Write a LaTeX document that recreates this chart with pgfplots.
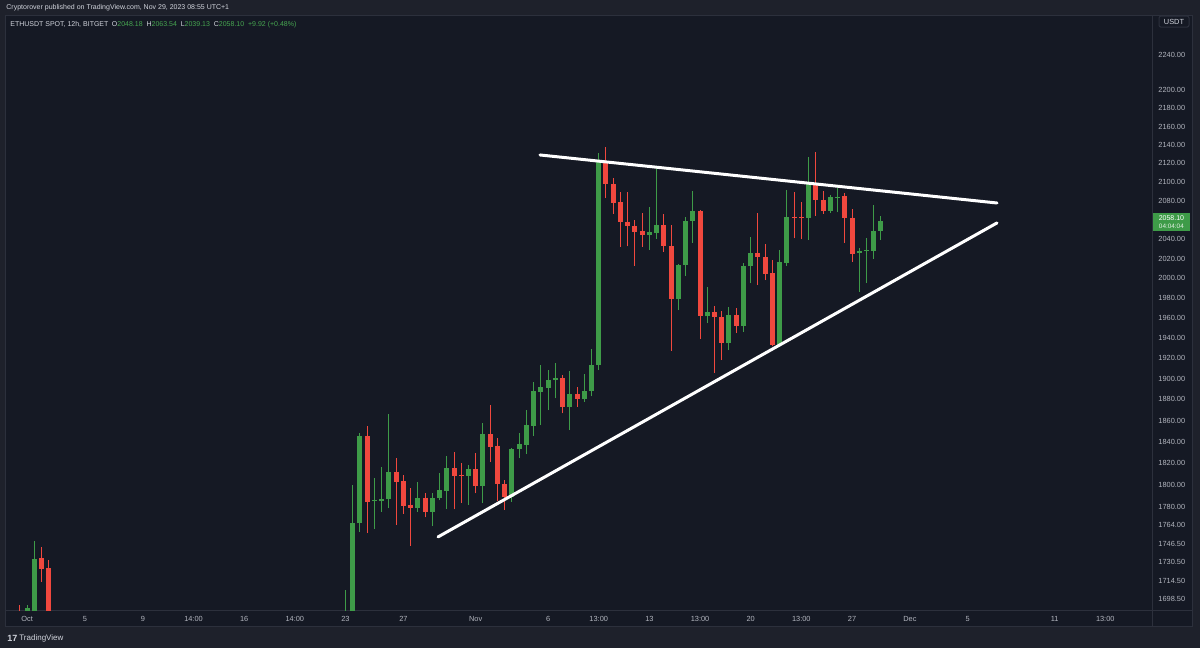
\documentclass[border=0pt]{standalone}
\usepackage{fontspec}
\setmainfont{Liberation Sans}
\usepackage{pgfplots}
\usepackage{pgfplotstable}
\pgfplotsset{compat=1.18}
\definecolor{outerbg}{RGB}{30,33,43}
\definecolor{panelbg}{RGB}{21,25,36}
\definecolor{sep}{RGB}{44,48,60}
\definecolor{upc}{RGB}{62,155,72}
\definecolor{dnc}{RGB}{240,72,62}
\definecolor{txt}{RGB}{178,181,190}
\definecolor{txtl}{RGB}{209,212,220}
\definecolor{txtg}{RGB}{70,165,80}

% x = candle index (12h candles, 0 = Oct 1 01:00), o h l c in USDT
\pgfplotstableread{
x o h l c
0 1685 1693 1680 1690.5
1 1681 1749.7 1676 1733.5
44 1655 1706.4 1648 1662
45 1662 1800.0 1655 1765.8
46 1765.2 1848.5 1757.7 1845.6
48 1785.2 1806.7 1759.8 1785.9
49 1785.1 1816.8 1775.7 1786.9
50 1786.9 1866.2 1778.7 1812.2
54 1778.7 1803.0 1775.7 1787.8
56 1775.7 1792.9 1762.8 1788.4
57 1787.8 1811.3 1785.7 1795.1
58 1794.5 1826.7 1778.1 1815.4
61 1808.6 1818.4 1781.8 1814.7
63 1799.1 1858.0 1783.3 1847.0
67 1788.7 1833.9 1784.8 1832.9
68 1832.9 1847.9 1824.5 1837.9
69 1836.9 1870.0 1828.6 1855.7
70 1855.1 1897.1 1845.4 1888.1
71 1887.5 1913.3 1855.7 1891.7
72 1891.3 1908.4 1870.0 1899.0
73 1898.7 1914.9 1881.1 1900.9
75 1873.1 1907.7 1851.0 1885.3
77 1880.2 1905.2 1877.9 1888.4
78 1888.4 1928.9 1883.0 1913.3
79 1913.3 2131.4 1908.4 2121.7
86 2044.4 2073.7 2028.5 2047.2
87 2046.5 2117.0 2039.8 2053.8
90 1978.6 2014.1 1967.5 2013.1
91 2013.1 2062.5 2001.9 2059.0
92 2058.6 2090.6 2036.0 2069.2
94 1961.2 1991.4 1954.9 1965.7
97 1934.5 1970.8 1927.9 1962.5
99 1951.5 2015.4 1946.0 2011.4
100 2011.4 2042.2 1994.4 2025.1
104 1932.8 2028.5 1930.8 2015.5
105 2014.9 2091.3 2012.1 2063.1
108 2061.4 2127.2 2038.8 2097.3
111 2069.5 2085.9 2066.9 2083.5
112 2082.5 2093.2 2067.5 2084.1
115 2025.1 2030.2 1985.9 2027.5
116 2028.2 2040.5 1995.0 2028.6
117 2027.5 2075.5 2019.3 2048.5
118 2048.18 2063.54 2039.13 2058.10
}\upT

\pgfplotstableread{
x o h l c
-1 1688 1693.5 1675 1682
2 1734.1 1743.6 1713.6 1724.7
3 1725.3 1732.6 1650 1660
47 1845.6 1854.8 1756.3 1784.8
51 1812.2 1825.1 1763.7 1803.0
52 1803.7 1809.2 1773.6 1781.2
53 1781.8 1797.0 1745.2 1778.7
55 1788.4 1792.4 1770.6 1775.7
59 1815.4 1830.7 1777.8 1808.3
60 1809.2 1820.0 1783.3 1808.6
62 1814.7 1829.2 1792.4 1799.1
64 1847.0 1874.7 1820.9 1835.4
65 1836.3 1843.2 1785.4 1800.6
66 1800.9 1804.6 1777.2 1788.7
74 1900.9 1903.5 1866.9 1873.1
76 1885.3 1892.3 1873.1 1880.2
80 2121.7 2137.1 2082.5 2097.3
81 2097.6 2103.8 2066.2 2077.9
82 2078.3 2089.5 2031.6 2057.3
83 2057.9 2089.5 2032.2 2052.8
84 2053.5 2059.7 2012.1 2047.5
85 2048.2 2067.4 2031.6 2044.1
88 2053.8 2065.9 2026.8 2032.2
89 2032.2 2054.5 1927.2 1978.6
93 2069.2 2069.9 1938.7 1961.1
95 1965.5 1971.8 1905.5 1960.8
96 1960.8 1966.5 1918.1 1934.5
98 1962.5 1969.2 1944.4 1951.5
101 2025.1 2066.9 1992.7 2021.0
102 2021.0 2034.7 1997.8 2003.9
103 2004.6 2018.2 1931.8 1932.8
106 2063.1 2089.5 2040.5 2062.3
107 2062.6 2078.0 2039.5 2062.2
109 2097.3 2132.5 2063.9 2080.7
110 2080.7 2090.6 2066.2 2069.5
113 2084.9 2088.4 2036.0 2062.1
114 2062.1 2070.9 2016.5 2024.4
}\dnT

\newcommand{\tvfont}{\fontsize{3.7}{4.4}\selectfont}
\newcommand{\hdfont}{\fontsize{3.5}{4.2}\selectfont}

% draws one candle (wick + body) per table row
\newcommand{\candles}[2]{%
  \pgfplotstablegetrowsof{#1}%
  \pgfmathtruncatemacro\nrows{\pgfplotsretval-1}%
  \pgfplotsforeachungrouped \k in {0,...,\nrows}{%
    \pgfplotstablegetelem{\k}{x}\of#1\let\cx\pgfplotsretval
    \pgfplotstablegetelem{\k}{o}\of#1\let\co\pgfplotsretval
    \pgfplotstablegetelem{\k}{h}\of#1\let\ch\pgfplotsretval
    \pgfplotstablegetelem{\k}{l}\of#1\let\cl\pgfplotsretval
    \pgfplotstablegetelem{\k}{c}\of#1\let\cc\pgfplotsretval
    \edef\doplot{%
      \noexpand\addplot[draw=#2, line width=0.5pt, forget plot] coordinates {(\cx,\cl) (\cx,\ch)};
      \noexpand\addplot[draw=#2, line width=2.5pt, forget plot] coordinates {(\cx,\co) (\cx,\cc)};
    }%
    \doplot
  }%
}

\begin{document}
\begin{tikzpicture}[x=1pt,y=1pt]
\fill[outerbg] (0,0) rectangle (600,324);
\fill[panelbg] (2.5,10.5) rectangle (596,316);
\draw[sep, line width=0.5pt] (2.5,10.5) rectangle (596,316);
\draw[sep, line width=0.5pt] (576,10.5) -- (576,316);
\draw[sep, line width=0.5pt] (2.5,18.5) -- (596,18.5);

\begin{axis}[
  at={(3pt,18.5pt)}, anchor=south west,
  scale only axis, width=573pt, height=297.5pt,
  y coord trafo/.code={\pgfmathparse{ln(#1)}},
  y coord inv trafo/.code={\pgfmathparse{exp(#1)}},
  xmin=-2.916, xmax=155.46, ymin=1688.2, ymax=2284.9,
  axis line style={draw=none},
  major tick length=0pt, minor tick length=0pt,
  xtick={0,8,16,23,30,37,44,52,62,72,79,86,93,100,107,114,122,130,142,149},
  xticklabels={Oct,5,9,14:00,16,14:00,23,27,Nov,6,13:00,13,13:00,20,13:00,27,Dec,5,11,13:00},
  ytick={1698.5,1714.5,1730.5,1746.5,1764,1780,1800,1820,1840,1860,1880,1900,1920,1940,1960,1980,2000,2020,2040,2080,2100,2120,2140,2160,2180,2200,2240},
  yticklabels={1698.50,1714.50,1730.50,1746.50,1764.00,1780.00,1800.00,1820.00,1840.00,1860.00,1880.00,1900.00,1920.00,1940.00,1960.00,1980.00,2000.00,2020.00,2040.00,2080.00,2100.00,2120.00,2140.00,2160.00,2180.00,2200.00,2240.00},
  yticklabel pos=right,
  tick label style={font=\tvfont, text=txt},
  xticklabel style={anchor=base, inner sep=0pt, yshift=-5.3pt},
  yticklabel style={anchor=west, inner sep=0pt, xshift=3pt},
]
\candles{\upT}{upc}
\candles{\dnT}{dnc}
% trend lines
\addplot[white, line width=1.5pt, line cap=round] coordinates {(70.88,2128.9) (134.04,2077.5)};
\addplot[white, line width=1.5pt, line cap=round] coordinates {(56.79,1753.0) (134.04,2056.5)};
\end{axis}

% header
\node[anchor=west, inner sep=0pt, text=txtl, font=\hdfont] at (3,320) {Cryptorover published on TradingView.com, Nov 29, 2023 08:55 UTC+1};
% legend
\node[anchor=west, inner sep=0pt, text=txtl, font=\hdfont] at (5,311.5)
 {ETHUSDT SPOT, 12h, BITGET\enspace O\textcolor{txtg}{2048.18}\; H\textcolor{txtg}{2063.54}\; L\textcolor{txtg}{2039.13}\; C\textcolor{txtg}{2058.10}\; \textcolor{txtg}{+9.92 (+0.48\%)}};
% USDT box
\node[draw=sep, line width=0.5pt, rounded corners=1pt, fill=panelbg, text=txtl, font=\tvfont,
  minimum width=15pt, minimum height=5.5pt, inner sep=0pt] at (587,313.2) {USDT};
% last price box
\fill[upc] (576.5,208.5) rectangle (595,217.5);
\node[text=white, font=\fontsize{3.5}{4}\selectfont, inner sep=0pt] at (585.7,215) {2058.10};
\node[text=white!85!upc, font=\fontsize{3.2}{4}\selectfont, inner sep=0pt] at (585.7,210.8) {04:04:04};
% footer
\node[anchor=west, inner sep=0pt, text=txtl, font=\fontsize{4.5}{5}\selectfont\bfseries] at (3.5,5) {17};
\node[anchor=west, inner sep=0pt, text=txtl, font=\fontsize{4}{5}\selectfont] at (9.5,5) {TradingView};
\end{tikzpicture}
\end{document}
